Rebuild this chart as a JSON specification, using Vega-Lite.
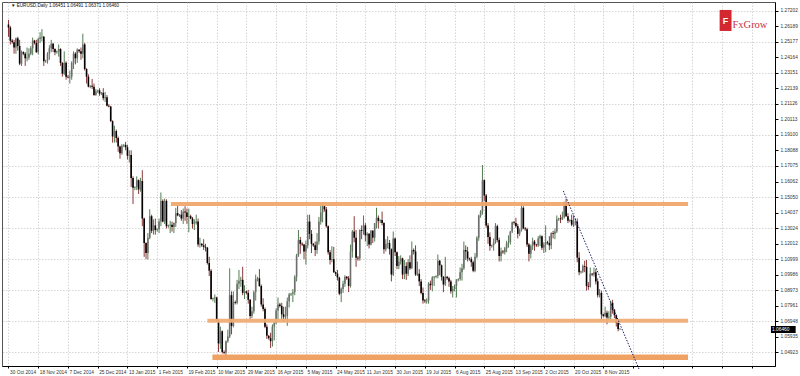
{
"$schema":"https://vega.github.io/schema/vega-lite/v6.json",
"width":773,"height":364,"autosize":"none",
"padding":{"left":2,"right":25,"top":2,"bottom":10},
"background":"white",
"config":{"view":{"stroke":"#555","strokeWidth":1},"font":"Liberation Sans"},
"resolve":{"axis":{"x":"independent","y":"independent"}},
"datasets":{
"bars":[
{"i":0,"o":1.263,"h":1.266,"l":1.255,"c":1.261},
{"i":1,"o":1.261,"h":1.262,"l":1.25,"c":1.2525},
{"i":2,"o":1.2525,"h":1.2535,"l":1.2505,"c":1.2515},
{"i":3,"o":1.2515,"h":1.253,"l":1.244,"c":1.248},
{"i":4,"o":1.248,"h":1.2545,"l":1.244,"c":1.254},
{"i":5,"o":1.254,"h":1.255,"l":1.246,"c":1.249},
{"i":6,"o":1.249,"h":1.253,"l":1.2365,"c":1.2375},
{"i":7,"o":1.2375,"h":1.246,"l":1.236,"c":1.245},
{"i":8,"o":1.245,"h":1.2455,"l":1.243,"c":1.244},
{"i":9,"o":1.244,"h":1.245,"l":1.236,"c":1.241},
{"i":10,"o":1.241,"h":1.248,"l":1.239,"c":1.2415},
{"i":11,"o":1.2415,"h":1.2475,"l":1.24,"c":1.244},
{"i":12,"o":1.244,"h":1.249,"l":1.243,"c":1.2475},
{"i":13,"o":1.2475,"h":1.2545,"l":1.243,"c":1.2525},
{"i":14,"o":1.2525,"h":1.253,"l":1.25,"c":1.251},
{"i":15,"o":1.251,"h":1.253,"l":1.2445,"c":1.245},
{"i":16,"o":1.245,"h":1.2545,"l":1.2435,"c":1.2535},
{"i":17,"o":1.2535,"h":1.258,"l":1.251,"c":1.2545},
{"i":18,"o":1.2545,"h":1.26,"l":1.252,"c":1.255},
{"i":19,"o":1.255,"h":1.2555,"l":1.236,"c":1.239},
{"i":20,"o":1.239,"h":1.24,"l":1.238,"c":1.2395},
{"i":21,"o":1.2395,"h":1.245,"l":1.2375,"c":1.244},
{"i":22,"o":1.244,"h":1.2495,"l":1.24,"c":1.2475},
{"i":23,"o":1.2475,"h":1.253,"l":1.245,"c":1.2505},
{"i":24,"o":1.2505,"h":1.251,"l":1.245,"c":1.247},
{"i":25,"o":1.247,"h":1.2475,"l":1.243,"c":1.245},
{"i":26,"o":1.245,"h":1.246,"l":1.244,"c":1.2455},
{"i":27,"o":1.2455,"h":1.25,"l":1.242,"c":1.247},
{"i":28,"o":1.247,"h":1.2475,"l":1.236,"c":1.238},
{"i":29,"o":1.238,"h":1.2385,"l":1.229,"c":1.231},
{"i":30,"o":1.231,"h":1.2455,"l":1.23,"c":1.238},
{"i":31,"o":1.238,"h":1.239,"l":1.227,"c":1.229},
{"i":32,"o":1.229,"h":1.23,"l":1.228,"c":1.2285},
{"i":33,"o":1.2285,"h":1.233,"l":1.2245,"c":1.229},
{"i":34,"o":1.229,"h":1.239,"l":1.227,"c":1.238},
{"i":35,"o":1.238,"h":1.2455,"l":1.234,"c":1.244},
{"i":36,"o":1.244,"h":1.245,"l":1.237,"c":1.241},
{"i":37,"o":1.241,"h":1.2475,"l":1.238,"c":1.2465},
{"i":38,"o":1.2465,"h":1.247,"l":1.2445,"c":1.2455},
{"i":39,"o":1.2455,"h":1.248,"l":1.24,"c":1.244},
{"i":40,"o":1.244,"h":1.257,"l":1.241,"c":1.25},
{"i":41,"o":1.25,"h":1.251,"l":1.233,"c":1.234},
{"i":42,"o":1.234,"h":1.2345,"l":1.2245,"c":1.229},
{"i":43,"o":1.229,"h":1.2305,"l":1.222,"c":1.2225},
{"i":44,"o":1.2225,"h":1.2235,"l":1.2215,"c":1.223},
{"i":45,"o":1.223,"h":1.2275,"l":1.221,"c":1.2225},
{"i":46,"o":1.2225,"h":1.2245,"l":1.2165,"c":1.217},
{"i":47,"o":1.217,"h":1.221,"l":1.2165,"c":1.2195},
{"i":48,"o":1.2195,"h":1.2205,"l":1.2185,"c":1.22},
{"i":49,"o":1.22,"h":1.2215,"l":1.2165,"c":1.218},
{"i":50,"o":1.218,"h":1.219,"l":1.217,"c":1.2185},
{"i":51,"o":1.2185,"h":1.2215,"l":1.2135,"c":1.215},
{"i":52,"o":1.215,"h":1.219,"l":1.2125,"c":1.2155},
{"i":53,"o":1.2155,"h":1.217,"l":1.2095,"c":1.21},
{"i":54,"o":1.21,"h":1.211,"l":1.209,"c":1.2095},
{"i":55,"o":1.2095,"h":1.21,"l":1.1995,"c":1.2},
{"i":56,"o":1.2,"h":1.2005,"l":1.186,"c":1.19},
{"i":57,"o":1.19,"h":1.197,"l":1.186,"c":1.1935},
{"i":58,"o":1.1935,"h":1.1945,"l":1.186,"c":1.189},
{"i":59,"o":1.189,"h":1.19,"l":1.18,"c":1.1835},
{"i":60,"o":1.1835,"h":1.184,"l":1.1755,"c":1.179},
{"i":61,"o":1.179,"h":1.185,"l":1.178,"c":1.184},
{"i":62,"o":1.184,"h":1.185,"l":1.183,"c":1.1845},
{"i":63,"o":1.1845,"h":1.1865,"l":1.181,"c":1.183},
{"i":64,"o":1.183,"h":1.1845,"l":1.175,"c":1.1775},
{"i":65,"o":1.1775,"h":1.181,"l":1.173,"c":1.178},
{"i":66,"o":1.178,"h":1.181,"l":1.157,"c":1.163},
{"i":67,"o":1.163,"h":1.164,"l":1.146,"c":1.1565},
{"i":68,"o":1.1565,"h":1.1575,"l":1.155,"c":1.157},
{"i":69,"o":1.157,"h":1.164,"l":1.155,"c":1.1615},
{"i":70,"o":1.1615,"h":1.162,"l":1.1525,"c":1.1555},
{"i":71,"o":1.1555,"h":1.163,"l":1.154,"c":1.161},
{"i":72,"o":1.161,"h":1.168,"l":1.1315,"c":1.1365},
{"i":73,"o":1.1365,"h":1.137,"l":1.1115,"c":1.1205},
{"i":74,"o":1.1205,"h":1.121,"l":1.11,"c":1.114},
{"i":75,"o":1.114,"h":1.127,"l":1.1098,"c":1.124},
{"i":76,"o":1.124,"h":1.1425,"l":1.123,"c":1.138},
{"i":77,"o":1.138,"h":1.139,"l":1.127,"c":1.1285},
{"i":78,"o":1.1285,"h":1.136,"l":1.126,"c":1.132},
{"i":79,"o":1.132,"h":1.1365,"l":1.126,"c":1.129},
{"i":80,"o":1.129,"h":1.13,"l":1.128,"c":1.1295},
{"i":81,"o":1.1295,"h":1.1365,"l":1.127,"c":1.1345},
{"i":82,"o":1.1345,"h":1.1535,"l":1.1315,"c":1.148},
{"i":83,"o":1.148,"h":1.149,"l":1.134,"c":1.1345},
{"i":84,"o":1.1345,"h":1.1495,"l":1.133,"c":1.148},
{"i":85,"o":1.148,"h":1.149,"l":1.13,"c":1.1315},
{"i":86,"o":1.1315,"h":1.1325,"l":1.1305,"c":1.132},
{"i":87,"o":1.132,"h":1.135,"l":1.127,"c":1.1325},
{"i":88,"o":1.1325,"h":1.1345,"l":1.128,"c":1.131},
{"i":89,"o":1.131,"h":1.134,"l":1.127,"c":1.1335},
{"i":90,"o":1.1335,"h":1.1435,"l":1.131,"c":1.14},
{"i":91,"o":1.14,"h":1.145,"l":1.138,"c":1.1385},
{"i":92,"o":1.1385,"h":1.1395,"l":1.1375,"c":1.139},
{"i":93,"o":1.139,"h":1.142,"l":1.135,"c":1.1365},
{"i":94,"o":1.1365,"h":1.143,"l":1.133,"c":1.141},
{"i":95,"o":1.141,"h":1.1445,"l":1.135,"c":1.1405},
{"i":96,"o":1.1405,"h":1.143,"l":1.133,"c":1.1375},
{"i":97,"o":1.1375,"h":1.143,"l":1.1275,"c":1.138},
{"i":98,"o":1.138,"h":1.139,"l":1.136,"c":1.1365},
{"i":99,"o":1.1365,"h":1.1375,"l":1.13,"c":1.133},
{"i":100,"o":1.133,"h":1.136,"l":1.129,"c":1.1335},
{"i":101,"o":1.1335,"h":1.139,"l":1.1325,"c":1.1345},
{"i":102,"o":1.1345,"h":1.1365,"l":1.118,"c":1.1195},
{"i":103,"o":1.1195,"h":1.124,"l":1.1175,"c":1.12},
{"i":104,"o":1.12,"h":1.1205,"l":1.118,"c":1.119},
{"i":105,"o":1.119,"h":1.123,"l":1.116,"c":1.118},
{"i":106,"o":1.118,"h":1.12,"l":1.115,"c":1.1175},
{"i":107,"o":1.1175,"h":1.118,"l":1.1065,"c":1.1075},
{"i":108,"o":1.1075,"h":1.1115,"l":1.099,"c":1.1025},
{"i":109,"o":1.1025,"h":1.1035,"l":1.0835,"c":1.084},
{"i":110,"o":1.084,"h":1.085,"l":1.0825,"c":1.0845},
{"i":111,"o":1.0845,"h":1.087,"l":1.0815,"c":1.085},
{"i":112,"o":1.085,"h":1.0855,"l":1.0695,"c":1.07},
{"i":113,"o":1.07,"h":1.071,"l":1.0495,"c":1.055},
{"i":114,"o":1.055,"h":1.066,"l":1.0515,"c":1.063},
{"i":115,"o":1.063,"h":1.0635,"l":1.0485,"c":1.0495},
{"i":116,"o":1.0495,"h":1.0505,"l":1.048,"c":1.049},
{"i":117,"o":1.049,"h":1.057,"l":1.0462,"c":1.0565},
{"i":118,"o":1.0565,"h":1.064,"l":1.0555,"c":1.0595},
{"i":119,"o":1.0595,"h":1.104,"l":1.0585,"c":1.0865},
{"i":120,"o":1.0865,"h":1.089,"l":1.061,"c":1.0665},
{"i":121,"o":1.0665,"h":1.089,"l":1.0655,"c":1.082},
{"i":122,"o":1.082,"h":1.083,"l":1.0805,"c":1.0815},
{"i":123,"o":1.0815,"h":1.0965,"l":1.0805,"c":1.094},
{"i":124,"o":1.094,"h":1.103,"l":1.0905,"c":1.096},
{"i":125,"o":1.096,"h":1.0985,"l":1.092,"c":1.0965},
{"i":126,"o":1.0965,"h":1.105,"l":1.0865,"c":1.088},
{"i":127,"o":1.088,"h":1.093,"l":1.084,"c":1.089},
{"i":128,"o":1.089,"h":1.0895,"l":1.087,"c":1.088},
{"i":129,"o":1.088,"h":1.09,"l":1.081,"c":1.0835},
{"i":130,"o":1.0835,"h":1.084,"l":1.071,"c":1.073},
{"i":131,"o":1.073,"h":1.079,"l":1.0715,"c":1.076},
{"i":132,"o":1.076,"h":1.0895,"l":1.0745,"c":1.0885},
{"i":133,"o":1.0885,"h":1.1,"l":1.083,"c":1.097},
{"i":134,"o":1.097,"h":1.0985,"l":1.0955,"c":1.0975},
{"i":135,"o":1.0975,"h":1.1035,"l":1.092,"c":1.0925},
{"i":136,"o":1.0925,"h":1.0935,"l":1.079,"c":1.0805},
{"i":137,"o":1.0805,"h":1.0845,"l":1.076,"c":1.0775},
{"i":138,"o":1.0775,"h":1.0785,"l":1.065,"c":1.066},
{"i":139,"o":1.066,"h":1.0675,"l":1.058,"c":1.06},
{"i":140,"o":1.06,"h":1.0605,"l":1.0575,"c":1.0585},
{"i":141,"o":1.0585,"h":1.062,"l":1.052,"c":1.0565},
{"i":142,"o":1.0565,"h":1.0675,"l":1.053,"c":1.066},
{"i":143,"o":1.066,"h":1.069,"l":1.057,"c":1.0685},
{"i":144,"o":1.0685,"h":1.078,"l":1.0675,"c":1.0765},
{"i":145,"o":1.0765,"h":1.085,"l":1.0705,"c":1.0805},
{"i":146,"o":1.0805,"h":1.0815,"l":1.0785,"c":1.0795},
{"i":147,"o":1.0795,"h":1.0815,"l":1.071,"c":1.074},
{"i":148,"o":1.074,"h":1.079,"l":1.069,"c":1.0725},
{"i":149,"o":1.0725,"h":1.079,"l":1.0705,"c":1.073},
{"i":150,"o":1.073,"h":1.085,"l":1.0665,"c":1.0825},
{"i":151,"o":1.0825,"h":1.088,"l":1.0785,"c":1.087},
{"i":152,"o":1.087,"h":1.088,"l":1.086,"c":1.0875},
{"i":153,"o":1.0875,"h":1.0905,"l":1.082,"c":1.0885},
{"i":154,"o":1.0885,"h":1.0995,"l":1.0865,"c":1.0985},
{"i":155,"o":1.0985,"h":1.1135,"l":1.0955,"c":1.1125},
{"i":156,"o":1.1125,"h":1.129,"l":1.1115,"c":1.1225},
{"i":157,"o":1.1225,"h":1.1245,"l":1.1135,"c":1.12},
{"i":158,"o":1.12,"h":1.121,"l":1.1185,"c":1.1195},
{"i":159,"o":1.1195,"h":1.12,"l":1.11,"c":1.115},
{"i":160,"o":1.115,"h":1.122,"l":1.1065,"c":1.119},
{"i":161,"o":1.119,"h":1.139,"l":1.117,"c":1.1345},
{"i":162,"o":1.1345,"h":1.139,"l":1.123,"c":1.1265},
{"i":163,"o":1.1265,"h":1.129,"l":1.114,"c":1.12},
{"i":164,"o":1.12,"h":1.1205,"l":1.118,"c":1.119},
{"i":165,"o":1.119,"h":1.1215,"l":1.112,"c":1.116},
{"i":166,"o":1.116,"h":1.127,"l":1.1135,"c":1.1215},
{"i":167,"o":1.1215,"h":1.1375,"l":1.1195,"c":1.1345},
{"i":168,"o":1.1345,"h":1.145,"l":1.1325,"c":1.1405},
{"i":169,"o":1.1405,"h":1.1467,"l":1.134,"c":1.1445},
{"i":170,"o":1.1445,"h":1.145,"l":1.141,"c":1.1425},
{"i":171,"o":1.1425,"h":1.144,"l":1.1305,"c":1.1315},
{"i":172,"o":1.1315,"h":1.132,"l":1.113,"c":1.1145},
{"i":173,"o":1.1145,"h":1.116,"l":1.1065,"c":1.1095},
{"i":174,"o":1.1095,"h":1.1185,"l":1.108,"c":1.11},
{"i":175,"o":1.11,"h":1.118,"l":1.101,"c":1.1015},
{"i":176,"o":1.1015,"h":1.102,"l":1.099,"c":1.1005},
{"i":177,"o":1.1005,"h":1.103,"l":1.096,"c":1.098},
{"i":178,"o":1.098,"h":1.0985,"l":1.0865,"c":1.0875},
{"i":179,"o":1.0875,"h":1.0915,"l":1.082,"c":1.0905},
{"i":180,"o":1.0905,"h":1.096,"l":1.088,"c":1.094},
{"i":181,"o":1.094,"h":1.0995,"l":1.092,"c":1.0985},
{"i":182,"o":1.0985,"h":1.099,"l":1.0965,"c":1.0975},
{"i":183,"o":1.0975,"h":1.099,"l":1.0885,"c":1.0925},
{"i":184,"o":1.0925,"h":1.1195,"l":1.0915,"c":1.115},
{"i":185,"o":1.115,"h":1.129,"l":1.111,"c":1.128},
{"i":186,"o":1.128,"h":1.138,"l":1.121,"c":1.124},
{"i":187,"o":1.124,"h":1.129,"l":1.105,"c":1.111},
{"i":188,"o":1.111,"h":1.112,"l":1.109,"c":1.1105},
{"i":189,"o":1.1105,"h":1.1295,"l":1.109,"c":1.129},
{"i":190,"o":1.129,"h":1.132,"l":1.123,"c":1.1285},
{"i":191,"o":1.1285,"h":1.1385,"l":1.126,"c":1.132},
{"i":192,"o":1.132,"h":1.1335,"l":1.1215,"c":1.1255},
{"i":193,"o":1.1255,"h":1.1275,"l":1.1185,"c":1.1265},
{"i":194,"o":1.1265,"h":1.127,"l":1.117,"c":1.1195},
{"i":195,"o":1.1195,"h":1.129,"l":1.119,"c":1.1285},
{"i":196,"o":1.1285,"h":1.129,"l":1.1205,"c":1.124},
{"i":197,"o":1.124,"h":1.1335,"l":1.1215,"c":1.1335},
{"i":198,"o":1.1335,"h":1.1435,"l":1.13,"c":1.137},
{"i":199,"o":1.137,"h":1.1385,"l":1.13,"c":1.135},
{"i":200,"o":1.135,"h":1.136,"l":1.1335,"c":1.1355},
{"i":201,"o":1.1355,"h":1.141,"l":1.132,"c":1.1335},
{"i":202,"o":1.1335,"h":1.134,"l":1.1135,"c":1.1165},
{"i":203,"o":1.1165,"h":1.123,"l":1.115,"c":1.12},
{"i":204,"o":1.12,"h":1.125,"l":1.117,"c":1.1205},
{"i":205,"o":1.1205,"h":1.1225,"l":1.113,"c":1.1165},
{"i":206,"o":1.1165,"h":1.117,"l":1.0955,"c":1.1},
{"i":207,"o":1.1,"h":1.128,"l":1.099,"c":1.1235},
{"i":208,"o":1.1235,"h":1.124,"l":1.112,"c":1.1145},
{"i":209,"o":1.1145,"h":1.115,"l":1.1035,"c":1.1055},
{"i":210,"o":1.1055,"h":1.112,"l":1.1035,"c":1.1085},
{"i":211,"o":1.1085,"h":1.1125,"l":1.1065,"c":1.1105},
{"i":212,"o":1.1105,"h":1.111,"l":1.097,"c":1.1},
{"i":213,"o":1.1,"h":1.1095,"l":1.097,"c":1.1055},
{"i":214,"o":1.1055,"h":1.108,"l":1.0965,"c":1.1005},
{"i":215,"o":1.1005,"h":1.11,"l":1.099,"c":1.108},
{"i":216,"o":1.108,"h":1.1125,"l":1.103,"c":1.104},
{"i":217,"o":1.104,"h":1.1215,"l":1.1035,"c":1.116},
{"i":218,"o":1.116,"h":1.117,"l":1.113,"c":1.115},
{"i":219,"o":1.115,"h":1.119,"l":1.099,"c":1.1},
{"i":220,"o":1.1,"h":1.1085,"l":1.099,"c":1.1005},
{"i":221,"o":1.1005,"h":1.1035,"l":1.0925,"c":1.0955},
{"i":222,"o":1.0955,"h":1.097,"l":1.087,"c":1.088},
{"i":223,"o":1.088,"h":1.0915,"l":1.081,"c":1.083},
{"i":224,"o":1.083,"h":1.084,"l":1.0815,"c":1.0825},
{"i":225,"o":1.0825,"h":1.0845,"l":1.081,"c":1.083},
{"i":226,"o":1.083,"h":1.095,"l":1.081,"c":1.094},
{"i":227,"o":1.094,"h":1.096,"l":1.09,"c":1.093},
{"i":228,"o":1.093,"h":1.099,"l":1.089,"c":1.098},
{"i":229,"o":1.098,"h":1.099,"l":1.0925,"c":1.0985},
{"i":230,"o":1.0985,"h":1.0995,"l":1.0975,"c":1.099},
{"i":231,"o":1.099,"h":1.113,"l":1.0975,"c":1.109},
{"i":232,"o":1.109,"h":1.1095,"l":1.0995,"c":1.106},
{"i":233,"o":1.106,"h":1.1065,"l":1.096,"c":1.0985},
{"i":234,"o":1.0985,"h":1.099,"l":1.0885,"c":1.0935},
{"i":235,"o":1.0935,"h":1.1115,"l":1.0925,"c":1.0985},
{"i":236,"o":1.0985,"h":1.099,"l":1.0965,"c":1.0975},
{"i":237,"o":1.0975,"h":1.0985,"l":1.092,"c":1.0955},
{"i":238,"o":1.0955,"h":1.0965,"l":1.0875,"c":1.089},
{"i":239,"o":1.089,"h":1.0925,"l":1.085,"c":1.0905},
{"i":240,"o":1.0905,"h":1.0935,"l":1.089,"c":1.0925},
{"i":241,"o":1.0925,"h":1.097,"l":1.085,"c":1.0965},
{"i":242,"o":1.0965,"h":1.0975,"l":1.0955,"c":1.097},
{"i":243,"o":1.097,"h":1.1045,"l":1.096,"c":1.1015},
{"i":244,"o":1.1015,"h":1.107,"l":1.096,"c":1.104},
{"i":245,"o":1.104,"h":1.1215,"l":1.103,"c":1.116},
{"i":246,"o":1.116,"h":1.119,"l":1.1095,"c":1.115},
{"i":247,"o":1.115,"h":1.118,"l":1.1085,"c":1.1105},
{"i":248,"o":1.1105,"h":1.111,"l":1.109,"c":1.11},
{"i":249,"o":1.11,"h":1.1115,"l":1.105,"c":1.108},
{"i":250,"o":1.108,"h":1.109,"l":1.1015,"c":1.1025},
{"i":251,"o":1.1025,"h":1.114,"l":1.1015,"c":1.1115},
{"i":252,"o":1.1115,"h":1.125,"l":1.1105,"c":1.124},
{"i":253,"o":1.124,"h":1.139,"l":1.122,"c":1.1385},
{"i":254,"o":1.1385,"h":1.142,"l":1.137,"c":1.141},
{"i":255,"o":1.141,"h":1.1714,"l":1.139,"c":1.1615},
{"i":256,"o":1.1615,"h":1.162,"l":1.148,"c":1.1515},
{"i":257,"o":1.1515,"h":1.1525,"l":1.1305,"c":1.132},
{"i":258,"o":1.132,"h":1.1335,"l":1.12,"c":1.1245},
{"i":259,"o":1.1245,"h":1.1275,"l":1.1155,"c":1.1185},
{"i":260,"o":1.1185,"h":1.1195,"l":1.1175,"c":1.119},
{"i":261,"o":1.119,"h":1.1235,"l":1.1155,"c":1.121},
{"i":262,"o":1.121,"h":1.1335,"l":1.12,"c":1.1315},
{"i":263,"o":1.1315,"h":1.1325,"l":1.121,"c":1.1225},
{"i":264,"o":1.1225,"h":1.124,"l":1.1085,"c":1.112},
{"i":265,"o":1.112,"h":1.1175,"l":1.1085,"c":1.115},
{"i":266,"o":1.115,"h":1.116,"l":1.1135,"c":1.1145},
{"i":267,"o":1.1145,"h":1.118,"l":1.113,"c":1.117},
{"i":268,"o":1.117,"h":1.122,"l":1.1145,"c":1.1205},
{"i":269,"o":1.1205,"h":1.1255,"l":1.1175,"c":1.121},
{"i":270,"o":1.121,"h":1.1285,"l":1.1195,"c":1.128},
{"i":271,"o":1.128,"h":1.1345,"l":1.127,"c":1.134},
{"i":272,"o":1.134,"h":1.135,"l":1.1325,"c":1.1335},
{"i":273,"o":1.1335,"h":1.137,"l":1.1305,"c":1.1315},
{"i":274,"o":1.1315,"h":1.133,"l":1.1235,"c":1.1265},
{"i":275,"o":1.1265,"h":1.13,"l":1.125,"c":1.129},
{"i":276,"o":1.129,"h":1.146,"l":1.128,"c":1.1435},
{"i":277,"o":1.1435,"h":1.1445,"l":1.1295,"c":1.13},
{"i":278,"o":1.13,"h":1.131,"l":1.1285,"c":1.1295},
{"i":279,"o":1.1295,"h":1.1305,"l":1.118,"c":1.1195},
{"i":280,"o":1.1195,"h":1.1205,"l":1.1085,"c":1.1135},
{"i":281,"o":1.1135,"h":1.1195,"l":1.1105,"c":1.1185},
{"i":282,"o":1.1185,"h":1.124,"l":1.116,"c":1.1215},
{"i":283,"o":1.1215,"h":1.1225,"l":1.1155,"c":1.1195},
{"i":284,"o":1.1195,"h":1.12,"l":1.118,"c":1.119},
{"i":285,"o":1.119,"h":1.125,"l":1.118,"c":1.1235},
{"i":286,"o":1.1235,"h":1.126,"l":1.1185,"c":1.125},
{"i":287,"o":1.125,"h":1.1255,"l":1.116,"c":1.1175},
{"i":288,"o":1.1175,"h":1.121,"l":1.114,"c":1.1195},
{"i":289,"o":1.1195,"h":1.132,"l":1.1145,"c":1.121},
{"i":290,"o":1.121,"h":1.122,"l":1.1195,"c":1.1205},
{"i":291,"o":1.1205,"h":1.125,"l":1.116,"c":1.119},
{"i":292,"o":1.119,"h":1.1275,"l":1.1165,"c":1.127},
{"i":293,"o":1.127,"h":1.1285,"l":1.1235,"c":1.1265},
{"i":294,"o":1.1265,"h":1.13,"l":1.123,"c":1.128},
{"i":295,"o":1.128,"h":1.1385,"l":1.127,"c":1.136},
{"i":296,"o":1.136,"h":1.137,"l":1.135,"c":1.1365},
{"i":297,"o":1.1365,"h":1.139,"l":1.1335,"c":1.136},
{"i":298,"o":1.136,"h":1.141,"l":1.1355,"c":1.1375},
{"i":299,"o":1.1375,"h":1.1475,"l":1.1365,"c":1.147},
{"i":300,"o":1.147,"h":1.1495,"l":1.1375,"c":1.138},
{"i":301,"o":1.138,"h":1.14,"l":1.1335,"c":1.135},
{"i":302,"o":1.135,"h":1.136,"l":1.134,"c":1.1355},
{"i":303,"o":1.1355,"h":1.139,"l":1.1315,"c":1.1325},
{"i":304,"o":1.1325,"h":1.1385,"l":1.131,"c":1.134},
{"i":305,"o":1.134,"h":1.1365,"l":1.132,"c":1.1345},
{"i":306,"o":1.1345,"h":1.1365,"l":1.108,"c":1.111},
{"i":307,"o":1.111,"h":1.1145,"l":1.0995,"c":1.1015},
{"i":308,"o":1.1015,"h":1.1025,"l":1.1005,"c":1.102},
{"i":309,"o":1.102,"h":1.1065,"l":1.101,"c":1.1055},
{"i":310,"o":1.1055,"h":1.109,"l":1.1015,"c":1.105},
{"i":311,"o":1.105,"h":1.1095,"l":1.0895,"c":1.0925},
{"i":312,"o":1.0925,"h":1.095,"l":1.09,"c":1.092},
{"i":313,"o":1.092,"h":1.1045,"l":1.0915,"c":1.1005},
{"i":314,"o":1.1005,"h":1.101,"l":1.099,"c":1.1},
{"i":315,"o":1.1,"h":1.1045,"l":1.0985,"c":1.1015},
{"i":316,"o":1.1015,"h":1.1035,"l":1.0935,"c":1.0955},
{"i":317,"o":1.0955,"h":1.0975,"l":1.085,"c":1.0865},
{"i":318,"o":1.0865,"h":1.0905,"l":1.085,"c":1.088},
{"i":319,"o":1.088,"h":1.0895,"l":1.0705,"c":1.074},
{"i":320,"o":1.074,"h":1.0745,"l":1.072,"c":1.073},
{"i":321,"o":1.073,"h":1.079,"l":1.072,"c":1.075},
{"i":322,"o":1.075,"h":1.0765,"l":1.0675,"c":1.072},
{"i":323,"o":1.072,"h":1.076,"l":1.0705,"c":1.0725},
{"i":324,"o":1.0725,"h":1.083,"l":1.0705,"c":1.0815},
{"i":325,"o":1.0815,"h":1.0835,"l":1.0745,"c":1.077},
{"i":326,"o":1.077,"h":1.0775,"l":1.0715,"c":1.0735},
{"i":327,"o":1.0735,"h":1.074,"l":1.066,"c":1.0685},
{"i":328,"o":1.0685,"h":1.069,"l":1.063,"c":1.0645},
{"i":329,"o":1.06451,"h":1.06491,"l":1.06371,"c":1.0646}
],
"upper":[{"a":87.4,"b":365.6,"p":1.146}],
"middle":[{"a":107,"b":365.6,"p":1.0699}],
"lower":[{"a":109.7,"b":365.6,"p":1.046}],
"trend":[{"a":298.5,"p":1.1545,"b":339.2,"q":1.0384}],
"header":[{"x":1.3,"p":1.2753,"t":"▼ EURUSD,Daily  1.06451 1.06491 1.06371 1.06460"}],
"logo":[{"a":382.6,"b":389.0,"p":1.2588,"q":1.2725,"cx":385.8,"cp":1.2656,"tx":389.5,"tp":1.2609}],
"tag":[{"a":410.2,"b":423.5,"p":1.06185,"q":1.06641,"tx":410.8,"tp":1.06413,"t":"1.06460"}]
},
"layer":[
{"data":{"name":"bars"},"mark":{"type":"rule","strokeWidth":0.9},
"encoding":{
"x":{"field":"i","type":"quantitative","scale":{"domain":[-0.8,409.7],"nice":false,"zero":false},
"axis":{"orient":"bottom","title":null,"values":[0,16,32,48,64,80,96,112,128,144,160,176,192,208,224,240,256,272,288,304,320,336,352,368,384,400],
"labelExpr":"datum.value <= 320 ? ['30 Oct 2014','18 Nov 2014','7 Dec 2014','25 Dec 2014','13 Jan 2015','1 Feb 2015','19 Feb 2015','10 Mar 2015','29 Mar 2015','16 Apr 2015','5 May 2015','24 May 2015','11 Jun 2015','30 Jun 2015','19 Jul 2015','6 Aug 2015','25 Aug 2015','13 Sep 2015','2 Oct 2015','20 Oct 2015','8 Nov 2015'][datum.value/16] : ''",
"labelAlign":"left","labelOffset":1,"labelPadding":1,"labelFontSize":4.8,"labelColor":"#333","labelFont":"Liberation Sans","labelOverlap":false,"labelFlush":false,"labelBound":false,
"tickSize":2,"tickColor":"#000","domainColor":"#000","domainWidth":1,
"grid":true,"gridColor":"#c4c4c4","gridDash":[1.5,1.5],"gridWidth":0.7}},
"y":{"field":"l","type":"quantitative","scale":{"domain":[1.04033,1.27769],"nice":false,"zero":false},
"axis":{"orient":"right","title":null,"values":[1.27202,1.26189,1.25177,1.24164,1.23151,1.22139,1.21126,1.20113,1.191,1.18088,1.17075,1.16062,1.1505,1.14037,1.13024,1.12012,1.10999,1.09986,1.08973,1.07961,1.06948,1.05935,1.04923],
"format":".5f","labelAlign":"left","labelPadding":2,"labelFontSize":4.8,"labelColor":"#333","labelFont":"Liberation Sans","labelOverlap":false,"labelBound":false,
"tickSize":3,"tickColor":"#000","domainColor":"#000","domainWidth":1,"grid":false}},
"y2":{"field":"h"},
"color":{"condition":{"test":"datum.c >= datum.o","value":"#3f6e3f"},"value":"#7a2424"}}},
{"data":{"name":"bars"},"mark":{"type":"bar","size":1.6,"orient":"vertical"},
"encoding":{
"x":{"field":"i","type":"quantitative","scale":{"domain":[-0.8,409.7],"nice":false,"zero":false},"axis":null},
"y":{"field":"o","type":"quantitative","scale":{"domain":[1.04033,1.27769],"nice":false,"zero":false},
"axis":{"orient":"right","title":null,"values":[1.27202,1.25177,1.23151,1.21126,1.191,1.17075,1.1505,1.13024,1.10999,1.08973,1.06948,1.04923],
"labels":false,"ticks":false,"domain":false,"grid":true,"gridColor":"#c4c4c4","gridDash":[1.5,1.5],"gridWidth":0.7}},
"y2":{"field":"c"},
"color":{"condition":{"test":"datum.c >= datum.o","value":"#6e6e6e"},"value":"#000000"}}},
{"data":{"name":"upper"},"mark":{"type":"rule","strokeWidth":4,"color":"#F0A86C","opacity":0.95},
"encoding":{"x":{"field":"a","type":"quantitative","scale":{"domain":[-0.8,409.7],"nice":false,"zero":false},"axis":null},"x2":{"field":"b"},
"y":{"field":"p","type":"quantitative","scale":{"domain":[1.04033,1.27769],"nice":false,"zero":false},"axis":null}}},
{"data":{"name":"middle"},"mark":{"type":"rule","strokeWidth":4,"color":"#F0AD75","opacity":0.95},
"encoding":{"x":{"field":"a","type":"quantitative","scale":{"domain":[-0.8,409.7],"nice":false,"zero":false},"axis":null},"x2":{"field":"b"},
"y":{"field":"p","type":"quantitative","scale":{"domain":[1.04033,1.27769],"nice":false,"zero":false},"axis":null}}},
{"data":{"name":"lower"},"mark":{"type":"rule","strokeWidth":5.5,"color":"#EE9D5C","opacity":0.95},
"encoding":{"x":{"field":"a","type":"quantitative","scale":{"domain":[-0.8,409.7],"nice":false,"zero":false},"axis":null},"x2":{"field":"b"},
"y":{"field":"p","type":"quantitative","scale":{"domain":[1.04033,1.27769],"nice":false,"zero":false},"axis":null}}},
{"data":{"name":"trend"},"mark":{"type":"rule","strokeWidth":1,"color":"#1b1f6b","strokeDash":[1.5,1.5]},
"encoding":{"x":{"field":"a","type":"quantitative","scale":{"domain":[-0.8,409.7],"nice":false,"zero":false},"axis":null},"x2":{"field":"b"},
"y":{"field":"p","type":"quantitative","scale":{"domain":[1.04033,1.27769],"nice":false,"zero":false},"axis":null},"y2":{"field":"q"}}},
{"data":{"name":"header"},"mark":{"type":"text","align":"left","baseline":"middle","fontSize":4.6,"color":"#111","font":"Liberation Sans"},
"encoding":{"x":{"field":"x","type":"quantitative","scale":{"domain":[-0.8,409.7],"nice":false,"zero":false},"axis":null},
"y":{"field":"p","type":"quantitative","scale":{"domain":[1.04033,1.27769],"nice":false,"zero":false},"axis":null},"text":{"field":"t"}}},
{"data":{"name":"logo"},"mark":{"type":"rect","color":"#d3282f"},
"encoding":{"x":{"field":"a","type":"quantitative","scale":{"domain":[-0.8,409.7],"nice":false,"zero":false},"axis":null},"x2":{"field":"b"},
"y":{"field":"p","type":"quantitative","scale":{"domain":[1.04033,1.27769],"nice":false,"zero":false},"axis":null},"y2":{"field":"q"}}},
{"data":{"name":"logo"},"mark":{"type":"text","text":"F","align":"center","baseline":"middle","fontSize":9,"fontWeight":"bold","color":"white","font":"Liberation Sans"},
"encoding":{"x":{"field":"cx","type":"quantitative","scale":{"domain":[-0.8,409.7],"nice":false,"zero":false},"axis":null},
"y":{"field":"cp","type":"quantitative","scale":{"domain":[1.04033,1.27769],"nice":false,"zero":false},"axis":null}}},
{"data":{"name":"logo"},"mark":{"type":"text","text":"FxGrow","align":"left","baseline":"alphabetic","fontSize":10.5,"color":"#c8323a","font":"Liberation Serif"},
"encoding":{"x":{"field":"tx","type":"quantitative","scale":{"domain":[-0.8,409.7],"nice":false,"zero":false},"axis":null},
"y":{"field":"tp","type":"quantitative","scale":{"domain":[1.04033,1.27769],"nice":false,"zero":false},"axis":null}}},
{"data":{"name":"tag"},"mark":{"type":"rect","color":"#000","clip":false},
"encoding":{"x":{"field":"a","type":"quantitative","scale":{"domain":[-0.8,409.7],"nice":false,"zero":false},"axis":null},"x2":{"field":"b"},
"y":{"field":"p","type":"quantitative","scale":{"domain":[1.04033,1.27769],"nice":false,"zero":false},"axis":null},"y2":{"field":"q"}}},
{"data":{"name":"tag"},"mark":{"type":"text","align":"left","baseline":"middle","fontSize":4.8,"color":"white","font":"Liberation Sans","clip":false},
"encoding":{"x":{"field":"tx","type":"quantitative","scale":{"domain":[-0.8,409.7],"nice":false,"zero":false},"axis":null},
"y":{"field":"tp","type":"quantitative","scale":{"domain":[1.04033,1.27769],"nice":false,"zero":false},"axis":null},"text":{"field":"t"}}}
]
}
